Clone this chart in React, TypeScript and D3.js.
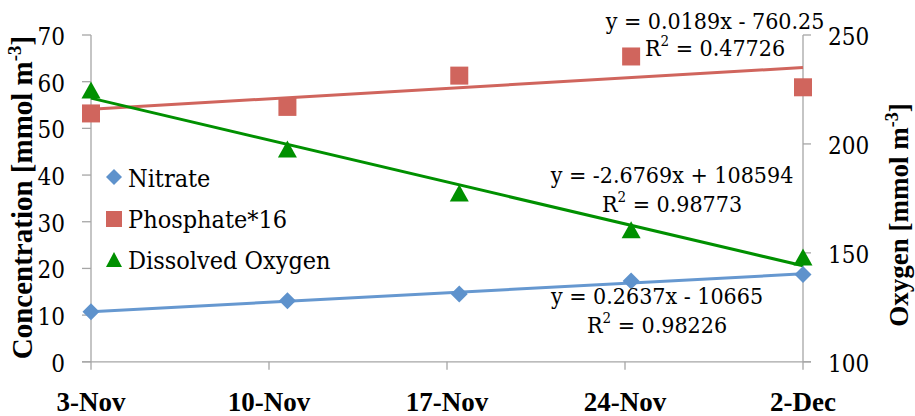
import React from "react";
import * as d3 from "d3";

const dates = ["2010-11-03", "2010-11-11", "2010-11-18", "2010-11-25", "2010-12-02"];
const nitrate = [10.7, 13.1, 14.5, 17.3, 18.7];
const phosphate16 = [53.2, 54.6, 61.3, 65.4, 58.8];
const oxygen = [224.8, 197.7, 177.5, 160.6, 148.1];
const xTickLabels = ["3-Nov", "10-Nov", "17-Nov", "24-Nov", "2-Dec"];
const leftTicks = [0, 10, 20, 30, 40, 50, 60, 70];
const rightTicks = [100, 150, 200, 250];
const seriesNames = ["Nitrate", "Phosphate*16", "Dissolved Oxygen"];
const eqNitrate = ["y = 0.2637x - 10665", "0.98226"];
const eqPhosphate = ["y = 0.0189x - 760.25", "0.47726"];
const eqOxygen = ["y = -2.6769x + 108594", "0.98773"];

const W = 915, H = 416;
const M = { left: 91, right: 803, top: 35, bottom: 361.8 };
const BLUE = "#5E92CC";
const BLUE_LINE = "#6698D0";
const RED = "#D0655D";
const GREEN = "#009000";
const AXIS = "#A6A6A6";
const FONT = "'DejaVu Serif Condensed', 'DejaVu Serif', serif";
const BFONT = "'Liberation Serif', 'DejaVu Serif', serif";

const parse = d3.timeParse("%Y-%m-%d");

function linReg(xs: number[], ys: number[]) {
  const mx = d3.mean(xs)!, my = d3.mean(ys)!;
  let sxy = 0, sxx = 0;
  xs.forEach((x, i) => { sxy += (x - mx) * (ys[i] - my); sxx += (x - mx) ** 2; });
  const b = sxy / sxx;
  return (x: number) => my + b * (x - mx);
}

function Diamond({ cx, cy, r, fill }: any) {
  return <path d={`M${cx},${cy - r}L${cx + r},${cy}L${cx},${cy + r}L${cx - r},${cy}Z`} fill={fill} />;
}
function Square({ cx, cy, s, fill }: any) {
  return <rect x={cx - s / 2} y={cy - s / 2} width={s} height={s} fill={fill} />;
}
function Tri({ cx, cy, w, h, fill }: any) {
  return <path d={`M${cx},${cy - h / 2}L${cx + w / 2},${cy + h / 2}L${cx - w / 2},${cy + h / 2}Z`} fill={fill} />;
}

function Eq({ x, y1, y2, lines }: any) {
  return (
    <g fontFamily={FONT} fontSize={23} fill="#000" textAnchor="middle">
      <text x={x} y={y1}>{lines[0]}</text>
      <text x={x} y={y2}>R<tspan fontSize={15} dy={-10}>2</tspan><tspan dy={10}> = {lines[1]}</tspan></text>
    </g>
  );
}

export default function App() {
  const dts = dates.map((d) => parse(d)!);
  const x = d3.scaleTime().domain([dts[0], dts[dts.length - 1]]).range([M.left, M.right]);
  const xTick = d3.scalePoint<string>().domain(xTickLabels).range([M.left, M.right]);
  const yL = d3.scaleLinear().domain([0, 70]).range([M.bottom, M.top]);
  const yR = d3.scaleLinear().domain([100, 250]).range([M.bottom, M.top]);
  const days = dts.map((d) => (d.getTime() - dts[0].getTime()) / 864e5);
  const t0 = 0, t1 = days[days.length - 1];
  const dayToDate = (t: number) => new Date(dts[0].getTime() + t * 864e5);

  const trend = (ys: number[], sc: any, color: string) => {
    const f = linReg(days, ys);
    return <line x1={x(dayToDate(t0))} y1={sc(f(t0))} x2={x(dayToDate(t1))} y2={sc(f(t1))} stroke={color} strokeWidth={3} />;
  };

  return (
    <svg width={W} height={H} style={{ position: "absolute", left: 0, top: 0, background: "#fff" }}>
      <rect width={W} height={H} fill="#fff" />
      <g stroke={AXIS} strokeWidth={1.3} fill="none">
        <line x1={M.left} y1={M.top} x2={M.left} y2={M.bottom} />
        <line x1={M.right} y1={M.top} x2={M.right} y2={M.bottom} />
        <line x1={M.left - 9} y1={M.bottom} x2={M.right + 8} y2={M.bottom} />
        {leftTicks.map((t) => <line key={"lt" + t} x1={M.left - 9} x2={M.left} y1={yL(t)} y2={yL(t)} />)}
        {rightTicks.map((t) => <line key={"rt" + t} x1={M.right} x2={M.right + 8} y1={yR(t)} y2={yR(t)} />)}
        {xTickLabels.map((l) => <line key={"xt" + l} x1={xTick(l)} x2={xTick(l)} y1={M.bottom} y2={M.bottom + 8} />)}
      </g>
      <g fontFamily={FONT} fontSize={24} fill="#000">
        {leftTicks.map((t) => <text key={"ll" + t} x={65} y={yL(t) + 10} textAnchor="end">{t}</text>)}
        {rightTicks.map((t) => <text key={"rl" + t} x={828} y={yR(t) + 10} textAnchor="start">{t}</text>)}
      </g>
      <g fontFamily={BFONT} fontSize={27} fontWeight="bold" fill="#000" textAnchor="middle">
        {xTickLabels.map((l) => <text key={"xl" + l} x={xTick(l)} y={411}>{l}</text>)}
      </g>
      <text transform="translate(32,197.5) rotate(-90)" textAnchor="middle" fontFamily={BFONT} fontSize={29} fontWeight="bold">
        Concentration [mmol m<tspan fontSize={19} dy={-11}>-3</tspan><tspan dy={11}>]</tspan>
      </text>
      <text transform="translate(908,215) rotate(-90)" textAnchor="middle" fontFamily={BFONT} fontSize={27} fontWeight="bold">
        Oxygen [mmol m<tspan fontSize={18} dy={-10}>-3</tspan><tspan dy={10}>]</tspan>
      </text>
      {trend(phosphate16, yL, RED)}
      {trend(oxygen, yR, GREEN)}
      {trend(nitrate, yL, BLUE_LINE)}
      {dts.map((d, i) => <Square key={"s" + i} cx={x(d)} cy={yL(phosphate16[i])} s={18} fill={RED} />)}
      {dts.map((d, i) => <Tri key={"t" + i} cx={x(d)} cy={yR(oxygen[i])} w={19} h={17} fill={GREEN} />)}
      {dts.map((d, i) => <Diamond key={"d" + i} cx={x(d)} cy={yL(nitrate[i])} r={8.5} fill={BLUE} />)}
      <Diamond cx={114} cy={177} r={8} fill={BLUE} />
      <Square cx={114} cy={219} s={16} fill={RED} />
      <Tri cx={114} cy={259.5} w={16} h={15} fill={GREEN} />
      <g fontFamily={FONT} fontSize={25} fill="#000">
        <text x={128} y={187}>{seriesNames[0]}</text>
        <text x={128} y={228}>{seriesNames[1]}</text>
        <text x={128} y={269}>{seriesNames[2]}</text>
      </g>
      <Eq x={715} y1={29} y2={56} lines={eqPhosphate} />
      <Eq x={672} y1={183} y2={212} lines={eqOxygen} />
      <Eq x={657} y1={304} y2={333} lines={eqNitrate} />
    </svg>
  );
}
